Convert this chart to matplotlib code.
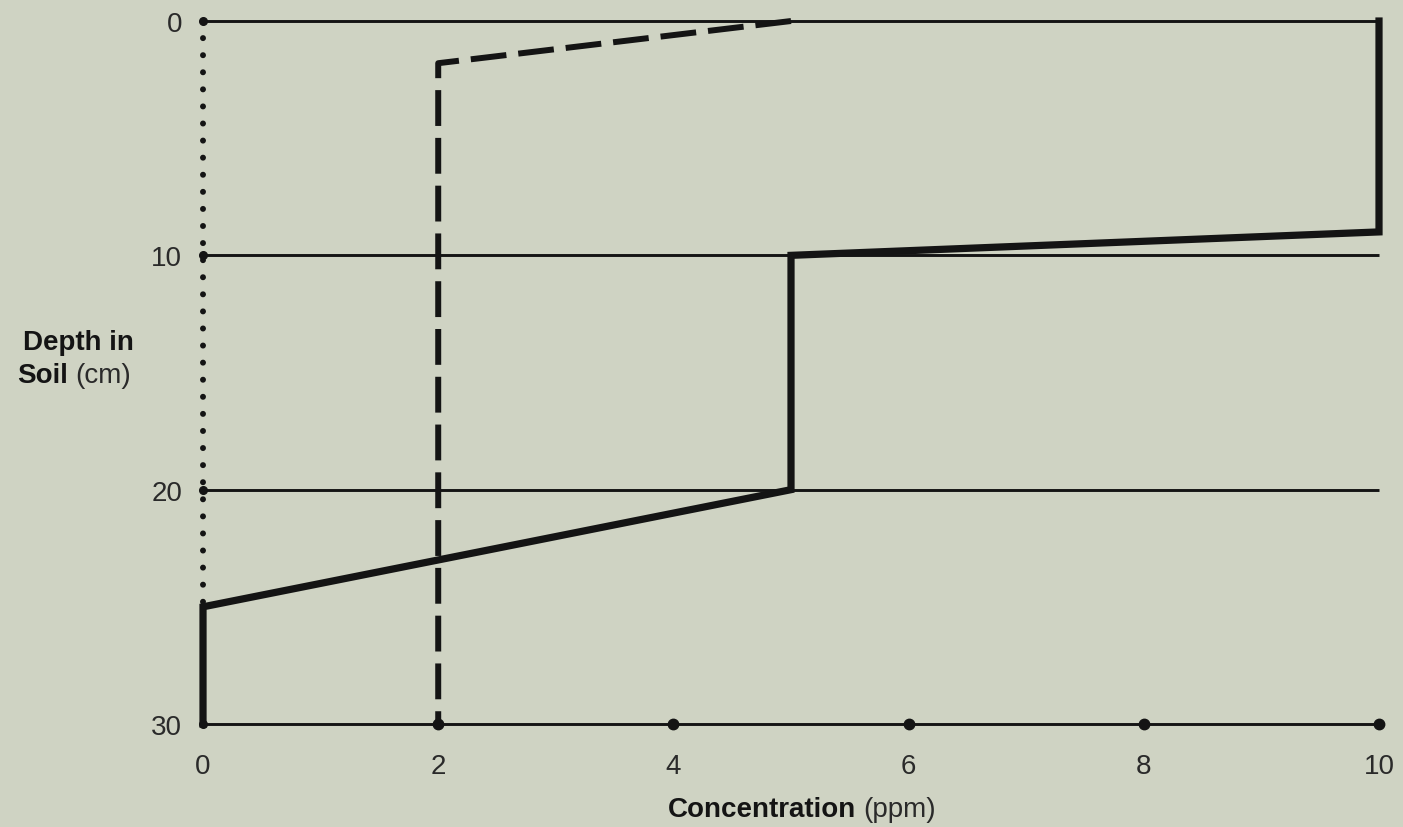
import matplotlib
matplotlib.use('Agg')
import matplotlib.pyplot as plt

# Concentration profiles (x = ppm, depth = cm)
solid_conc = [10, 10, 5, 5, 0, 0]
solid_depth = [0, 9, 10, 20, 25, 30]
dashed_conc = [5, 2, 2]
dashed_depth = [0, 1.8, 30]
dotted_conc = [0, 0]
dotted_depth = [0, 25]

ref_depths = [0, 10, 20, 30]
conc_ticks = [0, 2, 4, 6, 8, 10]
depth_ticks = [0, 10, 20, 30]
bottom_dots = [2, 4, 6, 8, 10]

BG = '#cfd3c3'
INK = '#141414'
FONT = 'Liberation Sans'
FS = 20


def main():
    fig = plt.figure(figsize=(14.03, 8.28), dpi=100, facecolor=BG)
    ax = fig.add_axes([0.1447, 0.1244, 0.8382, 0.8490])
    ax.set_facecolor(BG)
    for s in ax.spines.values():
        s.set_visible(False)

    # thin reference lines across the plot
    ax.hlines(ref_depths, 0, 10, color=INK, lw=2.1, zorder=2, clip_on=False)
    ax.plot([0] * len(ref_depths), ref_depths, 'o', color=INK, ms=5.5,
            zorder=3, clip_on=False)
    ax.plot(bottom_dots, [30] * len(bottom_dots), 'o', color=INK, ms=7.5,
            zorder=3, clip_on=False)

    # profiles
    ax.plot(dotted_conc, dotted_depth, color=INK, lw=4.3,
            ls=(0, (0.01, 2.85)), dash_capstyle='round', zorder=3,
            clip_on=False)
    ax.plot(dashed_conc, dashed_depth, color=INK, lw=4.3,
            ls=(0, (6.0, 2.0)), zorder=4, clip_on=False)
    ax.plot(solid_conc, solid_depth, color=INK, lw=5.2,
            solid_joinstyle='miter', zorder=5, clip_on=False)

    ax.set_xlim(0, 10)
    ax.set_ylim(30, 0)
    ax.set_xticks(conc_ticks)
    ax.set_yticks(depth_ticks)
    ax.tick_params(length=0, labelsize=FS, colors='#2a2a2a')
    ax.tick_params(axis='x', pad=21)
    ax.tick_params(axis='y', pad=15)
    for lab in ax.get_xticklabels() + ax.get_yticklabels():
        lab.set_fontfamily(FONT)

    # axis titles with bold + regular parts
    t = fig.text(668 / 1403, 1 - 810 / 828, 'Concentration', fontsize=FS,
                 fontweight='bold', family=FONT, color=INK,
                 ha='left', va='center')
    ax.annotate('(ppm)', xy=(1, 0.5), xycoords=t, xytext=(5, 0),
                textcoords='offset points', fontsize=FS, family=FONT,
                color='#2a2a2a', ha='left', va='center')

    fig.text(23 / 1403, 1 - 343 / 828, 'Depth in', fontsize=FS,
             fontweight='bold', family=FONT, color=INK,
             ha='left', va='center')
    s = fig.text(17 / 1403, 1 - 376 / 828, 'Soil', fontsize=FS,
                 fontweight='bold', family=FONT, color=INK,
                 ha='left', va='center')
    ax.annotate('(cm)', xy=(1, 0.5), xycoords=s, xytext=(5, 0),
                textcoords='offset points', fontsize=FS, family=FONT,
                color='#2a2a2a', ha='left', va='center')

    fig.savefig('out.png', dpi=100, facecolor=BG)


if __name__ == '__main__':
    main()
